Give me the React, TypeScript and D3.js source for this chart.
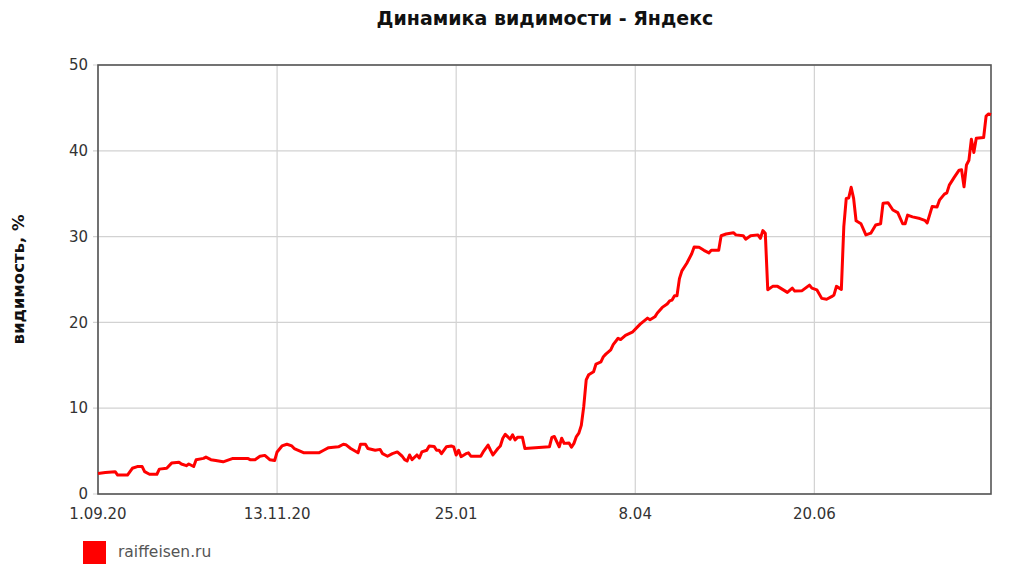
import React from "react";
import * as d3 from "d3";

const title = "Динамика видимости - Яндекс";
const yAxisTitle = "видимость, %";
const seriesName = "raiffeisen.ru";
const startDate = new Date(2020, 8, 1);
const endDate = new Date(2021, 7, 31);
const xTickDates = [new Date(2020, 8, 1), new Date(2020, 10, 13), new Date(2021, 0, 25), new Date(2021, 3, 8), new Date(2021, 5, 20)];
const xTickLabels = ["1.09.20", "13.11.20", "25.01", "8.04", "20.06"];
const yTicks = [0, 10, 20, 30, 40, 50];

// day offsets from 1.09.2020
const dayOffsets = [
  0, 3, 7, 8, 12, 14, 16, 18, 19, 21, 24, 25, 28, 30, 33, 34, 36, 37, 39, 40,
  43, 44, 46, 48, 51, 55, 61, 62, 64, 66, 68, 70, 72, 73, 75, 77, 79, 80, 84, 90,
  92, 94, 98, 100, 101, 103, 106, 107, 109, 110, 113, 115, 116, 118, 120, 122, 124, 125, 126, 127,
  128, 130, 131, 132, 134, 135, 137, 138, 139, 140, 142, 144, 145, 146, 147, 148, 150, 151, 152, 156,
  157, 159, 160, 161, 163, 164, 165, 166, 168, 169, 170, 171, 173, 174, 184, 185, 186, 188, 189, 190,
  192, 193, 194, 195, 196, 197, 198, 199, 200, 202, 203, 205, 206, 207, 209, 210, 212, 213, 215, 218,
  221, 224, 225, 227, 228, 230, 232, 233, 234, 235, 236, 237, 238, 240, 242, 243, 245, 247, 249, 250,
  253, 254, 256, 259, 260, 263, 264, 266, 269, 270, 271, 272, 273, 275, 277, 279, 281, 283, 284, 287,
  290, 291, 293, 295, 297, 299, 300, 301, 303, 304, 305, 306, 307, 308, 309, 311, 313, 315, 317, 319,
  320, 322, 324, 326, 328, 329, 330, 332, 335, 337, 338, 340, 342, 343, 345, 346, 347, 349, 351, 352,
  353, 354, 355, 356, 357, 358, 361, 362, 363, 364,
];

const visibility = [
  2.4, 2.5, 2.6, 2.2, 2.2, 3.0, 3.2, 3.2, 2.6, 2.3, 2.3, 2.9, 3.0, 3.6, 3.7, 3.5, 3.3, 3.5, 3.2, 4.0,
  4.15, 4.3, 4.0, 3.9, 3.75, 4.15, 4.15, 4.0, 4.0, 4.4, 4.5, 4.0, 3.9, 4.9, 5.6, 5.8, 5.6, 5.3, 4.8, 4.8,
  5.1, 5.4, 5.5, 5.8, 5.75, 5.3, 4.8, 5.8, 5.8, 5.3, 5.1, 5.2, 4.7, 4.4, 4.7, 4.9, 4.4, 4.0, 3.85, 4.55,
  4.0, 4.55, 4.2, 4.9, 5.1, 5.6, 5.55, 5.1, 5.1, 4.7, 5.5, 5.6, 5.5, 4.55, 5.1, 4.35, 4.7, 4.8, 4.4, 4.4,
  4.9, 5.7, 5.1, 4.55, 5.3, 5.6, 6.5, 6.95, 6.4, 6.9, 6.3, 6.6, 6.6, 5.3, 5.5, 6.6, 6.7, 5.5, 6.5, 5.9,
  5.95, 5.45, 5.9, 6.7, 7.1, 8.0, 10.2, 13.3, 13.9, 14.25, 15.15, 15.4, 16.0, 16.3, 16.8, 17.4, 18.15, 18.0, 18.5, 18.9,
  19.8, 20.5, 20.3, 20.65, 21.1, 21.75, 22.15, 22.5, 22.6, 23.1, 23.1, 25.1, 26.0, 26.9, 28.0, 28.8, 28.75, 28.4, 28.1, 28.4,
  28.4, 30.1, 30.3, 30.45, 30.2, 30.1, 29.7, 30.1, 30.2, 29.8, 30.7, 30.4, 23.8, 24.2, 24.2, 23.85, 23.5, 24.0, 23.65, 23.7,
  24.35, 24.0, 23.8, 22.8, 22.7, 23.0, 23.2, 24.2, 23.85, 31.15, 34.45, 34.5, 35.75, 34.45, 31.85, 31.5, 30.2, 30.4, 31.35, 31.5,
  33.9, 33.95, 33.1, 32.8, 31.5, 31.5, 32.5, 32.3, 32.1, 31.9, 31.6, 33.5, 33.45, 34.25, 34.95, 35.1, 36.0, 36.9, 37.75, 37.8,
  35.8, 38.35, 38.9, 41.35, 39.8, 41.45, 41.55, 44.05, 44.3, 44.2,
];

const W = 1024;
const H = 569;
const margin = { left: 98, right: 33, top: 65, bottom: 75 };

export default function App() {
  const x = d3
    .scaleTime()
    .domain([startDate, endDate])
    .range([margin.left, W - margin.right]);
  const y = d3
    .scaleLinear()
    .domain([0, 50])
    .range([H - margin.bottom, margin.top]);

  const points = dayOffsets.map((d, i) => ({
    date: d3.timeDay.offset(startDate, d),
    value: visibility[i],
  }));

  const line = d3
    .line<{ date: Date; value: number }>()
    .x((d) => x(d.date))
    .y((d) => y(d.value));

  const x0 = margin.left;
  const x1 = W - margin.right;
  const y0 = H - margin.bottom;
  const y1 = margin.top;
  const font = "'DejaVu Sans', Verdana, sans-serif";

  return (
    <svg
      width={W}
      height={H}
      style={{ position: "absolute", left: 0, top: 0, background: "#fff" }}
      fontFamily={font}
    >
      <rect x={0} y={0} width={W} height={H} fill="#fff" />
      <text x={545} y={25} textAnchor="middle" fontWeight="bold" fontSize={19} fill="#111">
        {title}
      </text>
      {/* grid */}
      {yTicks.map((t) => (
        <line key={"gy" + t} x1={x0 - 5} x2={x1} y1={y(t)} y2={y(t)} stroke="#d2d2d2" strokeWidth={1.2} />
      ))}
      {xTickDates.map((d, i) => (
        <line key={"gx" + i} x1={x(d)} x2={x(d)} y1={y1} y2={y0} stroke="#d2d2d2" strokeWidth={1.2} />
      ))}
      {/* frame */}
      <rect x={x0} y={y1} width={x1 - x0} height={y0 - y1} fill="none" stroke="#555" strokeWidth={1.6} />
      {/* y ticks */}
      {yTicks.map((t) => (
        <text key={"ty" + t} x={x0 - 10} y={y(t)} dy="0.35em" textAnchor="end" fontSize={15} fill="#333">
          {t}
        </text>
      ))}
      {xTickDates.map((d, i) => (
        <text key={"tx" + i} x={x(d)} y={y0 + 25} textAnchor="middle" fontSize={15} fill="#333">
          {xTickLabels[i]}
        </text>
      ))}
      <text
        transform={`translate(24, ${(y0 + y1) / 2}) rotate(-90)`}
        textAnchor="middle"
        fontWeight="bold"
        fontSize={16.5}
        fill="#111"
      >
        {yAxisTitle}
      </text>
      <path d={line(points) || ""} fill="none" stroke="#ff0000" strokeWidth={3} strokeLinejoin="round" />
      {/* legend */}
      <rect x={83} y={541} width={23} height={23} fill="#ff0000" />
      <text x={118} y={557} fontSize={15.5} fill="#555">
        {seriesName}
      </text>
    </svg>
  );
}
